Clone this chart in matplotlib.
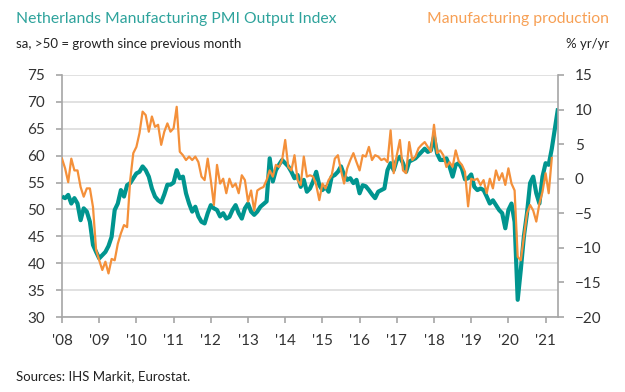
import numpy as np
import matplotlib.pyplot as plt

plt.rcParams['font.family'] = ['Lato', 'DejaVu Sans']

# monthly, Jan 2008 onwards
pmi_output = [52.4, 52.1, 52.7, 51.1, 52.1, 51.1, 48.0, 50.2, 49.6, 47.7, 43.4, 42.1,
              40.9, 41.5, 42.1, 43.2, 44.9, 49.9, 51.1, 53.6, 52.4, 54.5, 54.9, 55.8,
              56.7, 57.0, 58.0, 57.3, 56.1, 53.9, 52.4, 51.7, 51.3, 52.8, 54.6, 54.6,
              55.0, 57.3, 55.8, 56.1, 53.0, 51.1, 49.6, 50.5, 48.7, 47.7, 47.4, 49.3,
              50.8, 50.2, 49.9, 48.7, 49.3, 48.3, 48.6, 49.9, 50.8, 49.3, 48.3, 50.2,
              51.1, 49.6, 49.0, 49.6, 50.5, 51.0, 51.5, 59.5, 55.2, 57.3, 58.3, 59.2,
              58.6, 58.0, 57.0, 55.8, 56.4, 54.2, 55.5, 53.3, 53.9, 55.2, 57.0, 54.5,
              53.6, 54.2, 53.3, 56.1, 56.4, 57.0, 58.0, 56.4, 55.5, 55.8, 54.9, 55.5,
              53.0, 54.5, 54.3, 53.6, 52.8, 52.1, 53.3, 53.6, 53.9, 57.3, 58.6, 57.3,
              59.2, 59.8, 58.6, 57.0, 58.9, 59.2, 59.5, 60.1, 60.7, 61.3, 60.7, 61.0,
              63.5, 60.4, 59.2, 59.2, 59.5, 58.0, 56.1, 58.3, 58.6, 57.6, 55.6, 55.8,
              56.5, 54.2, 53.6, 53.9, 53.6, 52.4, 51.1, 51.7, 50.8, 49.9, 49.3, 46.5,
              49.9, 51.1, 47.7, 33.2, 38.8, 45.0, 49.3, 54.9, 56.1, 53.0, 51.1, 56.1,
              58.6, 58.3, 61.3, 65.1, 68.8]

production_yoy = [2.9, 1.5, -0.5, 2.9, 1.2, 1.2, -1.2, -2.6, -1.4, -1.4, -4.1, -10.3,
                  -11.8, -13.2, -12.0, -13.7, -11.6, -11.8, -9.4, -7.9, -6.7, -7.0, -0.2, 3.7,
                  4.6, 6.6, 9.7, 9.2, 6.8, 9.0, 7.5, 7.8, 4.9, 6.8, 8.0, 6.8,
                  7.3, 10.4, 3.9, 3.4, 2.7, 3.2, 2.7, 3.2, 2.4, 0.3, -0.2, 2.9,
                  -0.2, -3.8, 2.0, -0.7, 0.0, -2.1, 0.0, -1.2, -0.7, -2.1, 0.5, -0.2,
                  -3.3, -1.7, -4.6, -1.7, -1.4, -1.2, -0.2, 1.2, 0.3, 2.0, 1.7, 2.7,
                  5.6, 1.7, 1.2, 3.4, -0.2, -0.9, 3.2, 0.3, 0.5, 0.3, -0.9, -3.1,
                  -0.7, -1.4, -0.2, 0.5, 2.9, 3.4, 1.2, -0.7, 1.5, 2.7, 3.7, 2.4,
                  1.2, 3.4, 3.2, 4.6, 2.7, 3.4, 3.2, 2.7, 2.9, 2.4, 7.0, 0.8,
                  3.4, 5.6, 1.2, 0.8, 5.3, 2.7, 3.2, 4.4, 4.9, 5.3, 4.6, 3.9,
                  7.8, 3.7, 4.1, 3.4, 1.7, 2.4, 1.7, 4.1, 2.5, 2.0, 1.0, -4.0,
                  0.0, -0.2, 0.0, -0.9, -0.2, -2.1, 0.0, -1.4, 1.2, -0.2, 0.8, -0.9,
                  1.5, -0.7, -1.7, -11.3, -11.8, -8.4, -5.0, -3.8, -4.6, -6.2, -3.6, -1.9,
                  0.8, -2.1, 3.0]

years = list(range(2008, 2022))
year_labels = ["'" + str(y)[2:] for y in years]

teal = '#00958f'
orange = '#f4903a'
grey = '#a6a6a6'

t_pmi = 2008 + np.arange(len(pmi_output)) / 12
t_prod = 2008 + np.arange(len(production_yoy)) / 12

fig = plt.figure(figsize=(6.25, 3.92), dpi=100)
ax = fig.add_axes([0.0992, 0.1913, 0.7936, 0.6174])
ax2 = ax.twinx()

ax.plot(t_pmi, pmi_output, color=teal, lw=3.0, solid_capstyle='butt', zorder=3)
ax2.plot(t_prod, production_yoy, color=orange, lw=1.6, zorder=3)

ax.set_ylim(30, 75)
ax.set_yticks(range(30, 80, 5))
ax2.set_ylim(-20, 15)
ax2.set_yticks(range(-20, 20, 5))
ax.set_xlim(2008, 2008 + 160 / 12)
ax.set_xticks(years)
ax.set_xticklabels(year_labels)

ax.grid(axis='y', color='#dcdcdc', lw=1.2)
ax.set_axisbelow(True)

for a in (ax, ax2):
    a.spines['top'].set_visible(False)
    for s in ('left', 'right', 'bottom'):
        a.spines[s].set_color(grey)
        a.spines[s].set_linewidth(1.2)
ax.spines['right'].set_visible(False)
ax2.spines['left'].set_visible(False)
ax2.spines['bottom'].set_visible(False)

ax.tick_params(axis='y', length=4, width=1.2, color=grey, pad=8, labelsize=11, labelcolor='#333333')
ax.tick_params(axis='x', length=4, width=1.2, color=grey, pad=8, labelsize=11, labelcolor='#333333')
ax2.tick_params(axis='y', length=4, width=1.2, color=grey, pad=8, labelsize=11, labelcolor='#333333')

fig.text(0.0256, 0.952, 'Netherlands Manufacturing PMI Output Index', color='#2ea39c',
         fontsize=11.3, ha='left', va='center')
fig.text(0.0256, 0.887, 'sa, >50 = growth since previous month', color='#222222',
         fontsize=9.5, ha='left', va='center')
fig.text(0.974, 0.952, 'Manufacturing production', color='#f7a055',
         fontsize=11.3, ha='right', va='center')
fig.text(0.974, 0.887, '% yr/yr', color='#222222', fontsize=9.5, ha='right', va='center')
fig.text(0.0256, 0.04, 'Sources: IHS Markit, Eurostat.', color='#222222',
         fontsize=9.5, ha='left', va='center')

fig.savefig('out.png', dpi=100)
